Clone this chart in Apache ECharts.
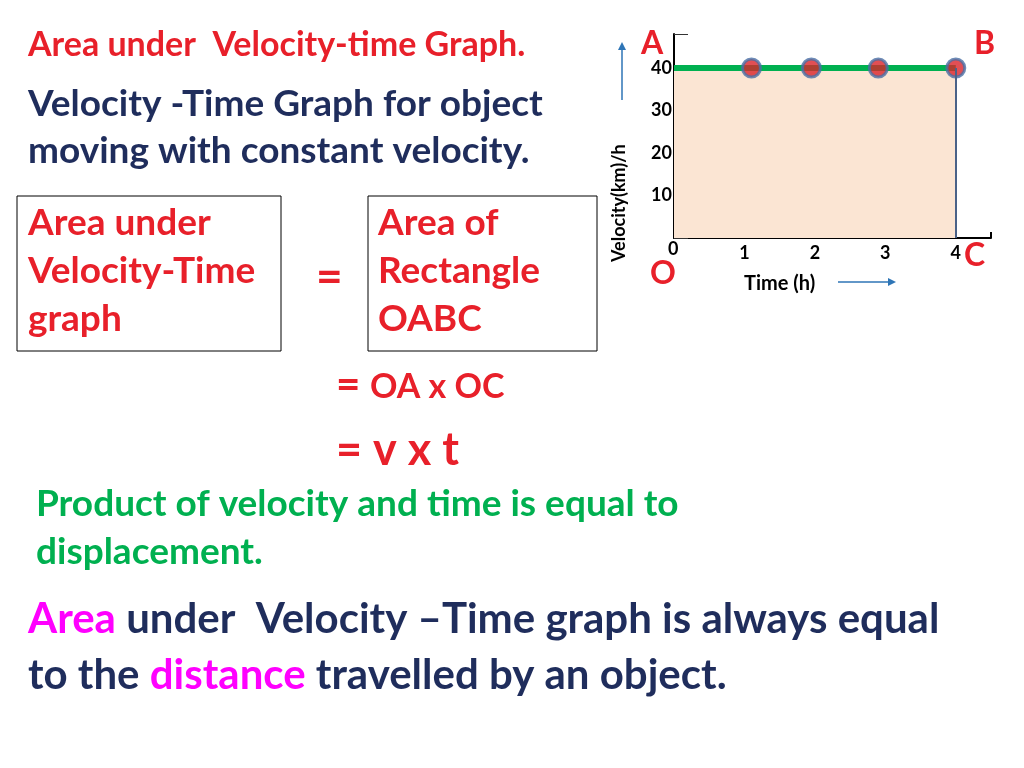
<!DOCTYPE html>
<html>
<head>
<meta charset="utf-8">
<script src="https://cdn.jsdelivr.net/npm/echarts@6/dist/echarts.min.js"></script>
<style>html,body{margin:0;background:#fff}#main{width:1024px;height:768px}</style>
</head>
<body>
<div id="main"></div>
<script>
// 图表数据
var yTicks = [10, 20, 30, 40];
var xTicks = [0, 1, 2, 3, 4];
var lineData = [[0, 40], [4, 40]];
var pointData = [[1.1, 40], [1.95, 40], [2.9, 40], [4, 40]];

var myChart = echarts.init(document.getElementById('main'));
var F = 'Lato, "Open Sans", sans-serif';
var red = '#e8202a', navy = '#1f2d5c', green = '#00b050', pink = '#ff00ff';
function txt(x, y, s, size, color, extra) {
  return Object.assign({ type: 'text', left: x, top: y,
    style: { text: s, font: 'bold ' + size + 'px ' + F, fill: color } }, extra || {});
}
var option = {
  grid: { left: 674, top: 34, width: 317, height: 204 },
  xAxis: {
    type: 'value', min: 0, max: 4.5, interval: 0.5,
    axisLine: { lineStyle: { color: '#000', width: 2 } },
    axisTick: { inside: true, length: 6, lineStyle: { color: '#000', width: 2 } },
    splitLine: { show: false },
    axisLabel: { color: '#000', fontWeight: 'bold', fontSize: 18, fontFamily: F, margin: 6,
      formatter: function (v) { return xTicks.indexOf(v) >= 0 && v !== 0 ? String(v) : ''; } }
  },
  yAxis: {
    type: 'value', min: 0, max: 48, interval: 10,
    axisLine: { show: true, lineStyle: { color: '#000', width: 2 } },
    axisTick: { show: true, inside: true, length: 14, lineStyle: { color: '#333', width: 1 } },
    splitLine: { show: false },
    axisLabel: { color: '#000', fontWeight: 'bold', fontSize: 18, fontFamily: F, margin: 2,
      formatter: function (v) { return yTicks.indexOf(v) >= 0 ? String(v) : ''; } }
  },
  series: [
    { type: 'line', data: lineData, symbol: 'none', z: 3,
      lineStyle: { color: green, width: 6 },
      areaStyle: { color: '#fbe5d3', opacity: 1 },
      markLine: { silent: true, symbol: 'none', label: { show: false },
        lineStyle: { color: '#4a6288', width: 2, type: 'solid' },
        data: [[{ coord: [4, 0] }, { coord: [4, 40] }]] } },
    { type: 'scatter', data: pointData, symbolSize: 18, z: 4,
      itemStyle: { color: '#d9232a', borderColor: '#4a6fa5', borderWidth: 3 } }
  ],
  graphic: [
    txt(28, 28, 'Area under  Velocity-time Graph.', 34, red),
    txt(28, 86, 'Velocity -Time Graph for object', 37, navy),
    txt(28, 133, 'moving with constant velocity.', 37, navy),
    { type: 'rect', shape: { x: 17, y: 196, width: 264, height: 155 }, style: { fill: 'none', stroke: '#000', lineWidth: 1 } },
    { type: 'rect', shape: { x: 368, y: 196, width: 229, height: 155 }, style: { fill: 'none', stroke: '#000', lineWidth: 1 } },
    txt(28, 205, 'Area under', 37, red), txt(28, 253, 'Velocity-Time', 37, red), txt(28, 301, 'graph', 37, red),
    txt(378, 205, 'Area of', 37, red), txt(378, 253, 'Rectangle', 37, red), txt(378, 301, 'OABC', 37, red),
    txt(316, 254, '=', 46, red),
    txt(336, 364, '=', 42, red), txt(370, 370, 'OA x OC', 34, red),
    txt(336, 428, '= v x t', 45, red),
    txt(36, 486, 'Product of velocity and time is equal to', 37, green),
    txt(36, 534, 'displacement.', 37, green),
    { type: 'text', left: 28, top: 598, style: { rich: {
        p: { font: 'bold 42px ' + F, fill: pink }, n: { font: 'bold 42px ' + F, fill: navy } },
      text: '{p|Area}{n| under  Velocity \u2013Time graph is always equal}' } },
    { type: 'text', left: 28, top: 654, style: { rich: {
        p: { font: 'bold 42px ' + F, fill: pink }, n: { font: 'bold 42px ' + F, fill: navy } },
      text: '{n|to the }{p|distance}{n| travelled by an object.}' } },
    txt(641, 28, 'A', 32, red), txt(974, 28, 'B', 32, red),
    txt(964, 240, 'C', 32, red), txt(650, 258, 'O', 32, red),
    txt(684, 72, 'v', 21, '#000'), txt(937, 206, 't', 21, '#000'),
    txt(668, 240, '0', 18, '#000'),
    txt(744, 274, 'Time (h)', 20, '#000'),
    { type: 'text', x: 610, y: 262, rotation: Math.PI / 2,
      style: { text: 'Velocity(km)/h', font: 'bold 18px ' + F, fill: '#000' } },
    { type: 'line', shape: { x1: 838, y1: 282, x2: 892, y2: 282 }, style: { stroke: '#2e75b6', lineWidth: 1.5 } },
    { type: 'polygon', shape: { points: [[896, 282], [888, 278], [888, 286]] }, style: { fill: '#2e75b6' } },
    { type: 'line', shape: { x1: 622, y1: 100, x2: 622, y2: 46 }, style: { stroke: '#2e75b6', lineWidth: 1.5 } },
    { type: 'polygon', shape: { points: [[622, 42], [618, 50], [626, 50]] }, style: { fill: '#2e75b6' } }
  ]
};
myChart.setOption(option);
</script>
</body>
</html>
